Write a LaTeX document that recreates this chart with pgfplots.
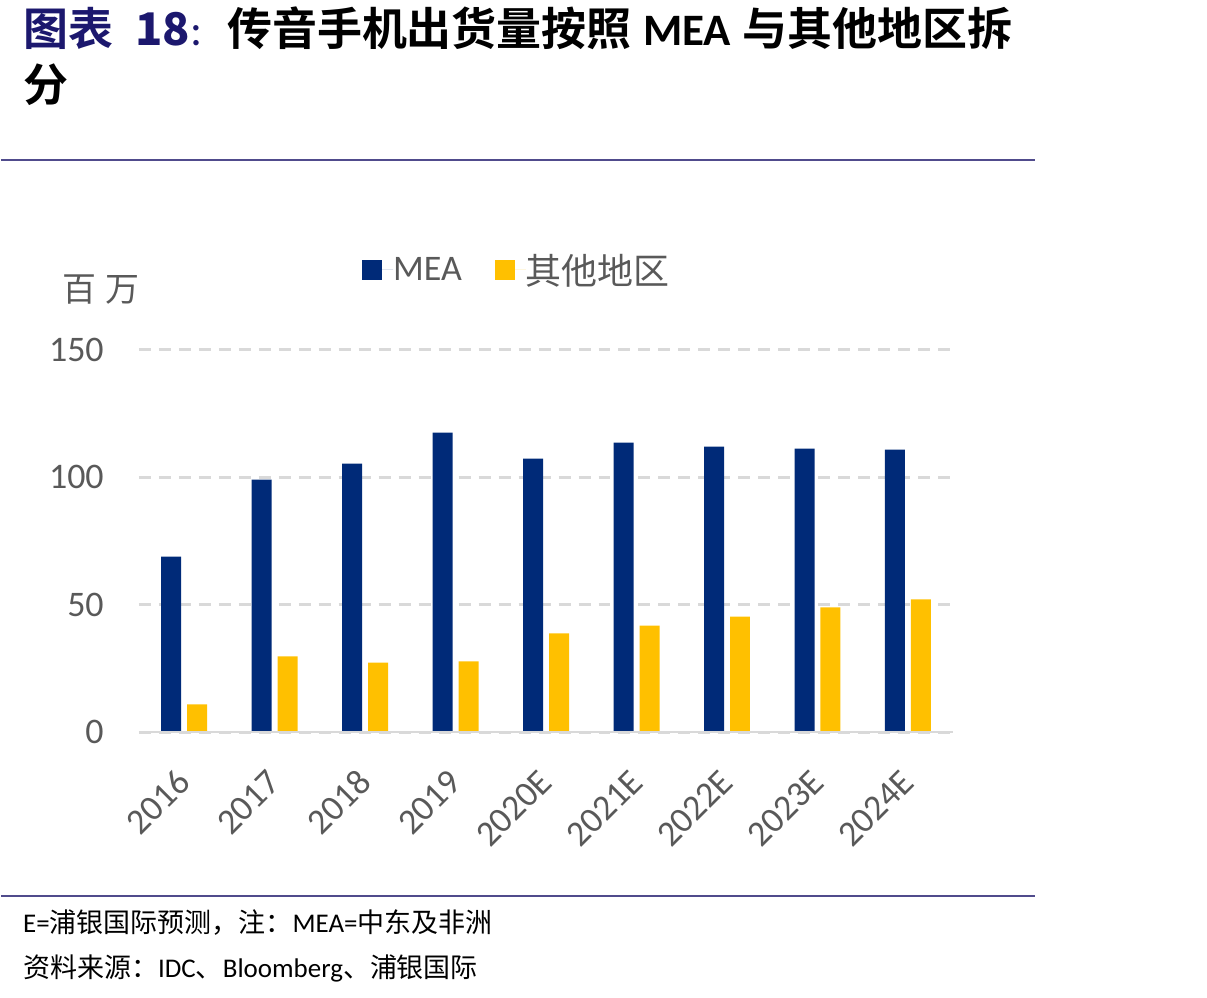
\documentclass[border=0pt]{standalone}
\usepackage{pgfplots}
\pgfplotsset{compat=1.18}
\usepackage{fontspec}
\setmainfont{Carlito}
\newfontfamily\cjk{Noto Sans CJK SC}
\newfontfamily\cjkb{Noto Sans CJK SC Bold}
\definecolor{mea}{RGB}{0,42,120}
\definecolor{oth}{RGB}{255,192,0}
\definecolor{tickc}{RGB}{89,89,89}
\definecolor{gridc}{RGB}{217,217,217}
\definecolor{rulec}{RGB}{80,75,140}
\definecolor{tnavy}{RGB}{28,24,110}
\begin{document}
\begin{tikzpicture}
\path (0,0) rectangle (1207bp,-998bp);
\draw[rulec, line width=2bp] (0,-160bp) -- (1035bp,-160bp);
\draw[rulec, line width=2bp] (0,-897bp) -- (1035bp,-897bp);
\node[anchor=base west, inner sep=0] at (22bp,-46bp) {\fontsize{45bp}{52bp}\selectfont
  {\color{tnavy}\cjkb 图表\hspace{0.5em}\bfseries 18\normalfont:}\hspace{0.55em}{\cjkb 传音手机出货量按照}\hspace{0.25em}{\bfseries MEA}\hspace{0.25em}{\cjkb 与其他地区拆}};
\node[anchor=base west, inner sep=0] at (22bp,-102bp) {\fontsize{45bp}{52bp}\selectfont\cjkb 分};
\node[text=tickc, inner sep=0] at (100bp,-290bp) {\fontsize{34bp}{40bp}\selectfont\cjk 百\hspace{0.25em}万};
\node[anchor=base west, inner sep=0] at (22bp,-933bp) {\fontsize{27bp}{31bp}\selectfont E={\cjk 浦银国际预测，注：}MEA={\cjk 中东及非洲}};
\node[anchor=base west, inner sep=0] at (22bp,-978bp) {\fontsize{27bp}{31bp}\selectfont {\cjk 资料来源：}IDC{\cjk 、}Bloomberg{\cjk 、浦银国际}};
\begin{axis}[
  at={(138bp,-733bp)}, anchor=south west,
  scale only axis, width=815bp, height=383bp,
  xmin=-0.5, xmax=8.5, ymin=0, ymax=150,
  ybar, bar width=20bp,
  axis line style={draw=none},
  major tick length=0pt, tick style={draw=none},
  /pgf/number format/assume math mode=true,
  ytick={0,50,100,150},
  ymajorgrids,
  grid style={line width=3bp, gridc, dash pattern=on 12bp off 8bp},
  xtick={0,...,8},
  xticklabels={2016,2017,2018,2019,2020E,2021E,2022E,2023E,2024E},
  yticklabel style={anchor=east, inner sep=0pt, xshift=-35bp, text=tickc, font=\fontsize{36bp}{42bp}\selectfont},
  xticklabel style={xshift=0bp, yshift=-44bp, rotate=45, anchor=east, inner sep=0pt, text=tickc, font=\fontsize{36bp}{42bp}\selectfont},
  legend style={at={(axis description cs:0.463,1.209)}, anchor=center, draw=none, fill=none,
    legend columns=2, font=\fontsize{36bp}{42bp}\selectfont, text=tickc,
    nodes={inner sep=0pt},
    /tikz/every even column/.append style={column sep=33bp}},
  legend image code/.code={\fill[#1] (0bp,-10bp) rectangle (20bp,10bp); \path (0bp,0bp) -- (31bp,0bp);},
]
\addplot[fill=mea, draw=none, bar shift=-13bp] coordinates {(0,68.9) (1,99.1) (2,105.4) (3,117.5) (4,107.3) (5,113.6) (6,112.0) (7,111.2) (8,110.8)};
\addplot[fill=oth, draw=none, bar shift=13bp] coordinates {(0,11.0) (1,29.8) (2,27.4) (3,27.8) (4,38.8) (5,41.9) (6,45.4) (7,49.0) (8,52.1)};
\legend{MEA,{\cjk 其他地区}}
\draw[gridc, line width=3bp] (axis cs:-0.5,0) -- (axis cs:8.5,0);
\end{axis}
\end{tikzpicture}
\end{document}
